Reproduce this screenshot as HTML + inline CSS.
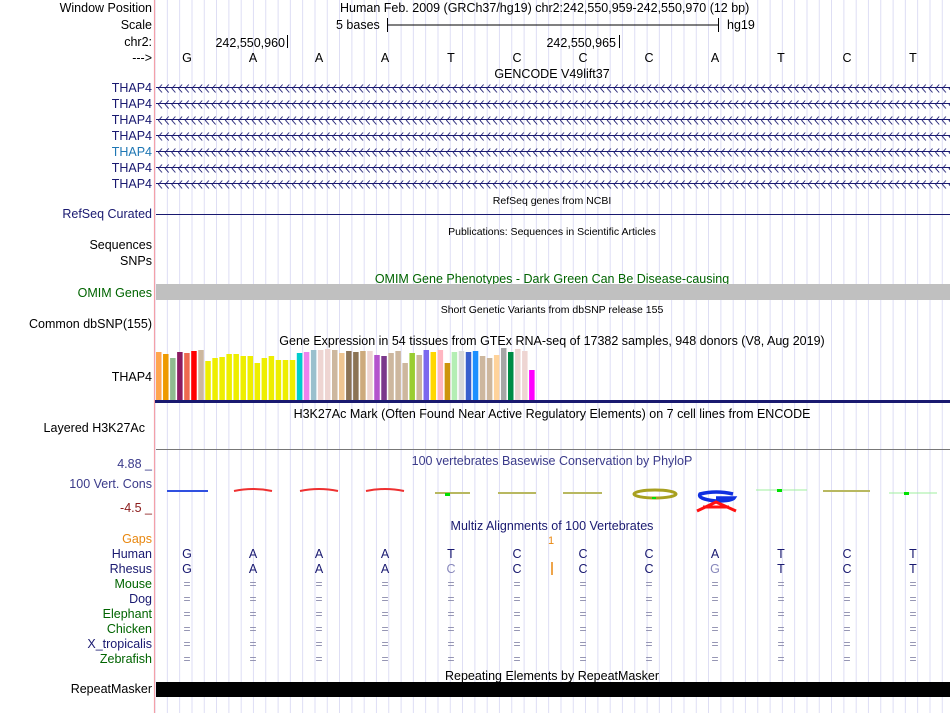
<!DOCTYPE html>
<html><head><meta charset="utf-8"><style>
html,body{margin:0;padding:0;background:#fff;}
svg{display:block;font-family:"Liberation Sans",sans-serif;}
</style></head><body>
<svg width="950" height="713" viewBox="0 0 950 713" xmlns="http://www.w3.org/2000/svg">
<defs>
<pattern id="grid" x="155.5" y="0" width="12.3" height="10" patternUnits="userSpaceOnUse">
<line x1="12" y1="0" x2="12" y2="10" stroke="#d6d6f2" stroke-width="1"/>
</pattern>
<pattern id="chev" x="157" y="0" width="6.7" height="16" patternUnits="userSpaceOnUse">
<polyline points="5,4.5 1.5,8.5 5,12.5" fill="none" stroke="#191970" stroke-width="0.9"/>
</pattern>
</defs>
<rect x="155" y="0" width="795" height="713" fill="url(#grid)"/>
<line x1="154.5" y1="0" x2="154.5" y2="713" stroke="#f4a0a8" stroke-width="1.2"/>

<g font-size="12.5" fill="#000" text-anchor="end">
<text x="152" y="12">Window Position</text>
<text x="152" y="29">Scale</text>
<text x="152" y="46">chr2:</text>
<text x="152" y="62">---&gt;</text>
<g fill="#191970">
<text x="152" y="92">THAP4</text><text x="152" y="108">THAP4</text><text x="152" y="124">THAP4</text><text x="152" y="140">THAP4</text>
<text x="152" y="156" fill="#1f77b4">THAP4</text><text x="152" y="172">THAP4</text><text x="152" y="188">THAP4</text>
<text x="152" y="218">RefSeq Curated</text>
</g>
<text x="152" y="249">Sequences</text>
<text x="152" y="265">SNPs</text>
<text x="152" y="297" fill="#006400">OMIM Genes</text>
<text x="152" y="328">Common dbSNP(155)</text>
<text x="152" y="381">THAP4</text>
<text x="145" y="432">Layered H3K27Ac</text>
<text x="152" y="468" fill="#3a3a8a">4.88 _</text>
<text x="152" y="488" fill="#3a3a8a">100 Vert. Cons</text>
<text x="152" y="512" fill="#8b1a1a">-4.5 _</text>
<text x="152" y="543" fill="#e8870f">Gaps</text>
<text x="152" y="558" fill="#191970">Human</text>
<text x="152" y="573" fill="#191970">Rhesus</text>
<text x="152" y="588" fill="#006400">Mouse</text>
<text x="152" y="603" fill="#191970">Dog</text>
<text x="152" y="618" fill="#006400">Elephant</text>
<text x="152" y="633" fill="#006400">Chicken</text>
<text x="152" y="648" fill="#191970">X_tropicalis</text>
<text x="152" y="663" fill="#006400">Zebrafish</text>
<text x="152" y="693">RepeatMasker</text>
</g>

<g font-size="12.5">
<text x="340" y="12">Human Feb. 2009 (GRCh37/hg19)   chr2:242,550,959-242,550,970 (12 bp)</text>
<text x="336" y="29">5 bases</text>
<line x1="387" y1="25" x2="718" y2="25" stroke="#000"/>
<line x1="387.5" y1="18" x2="387.5" y2="32" stroke="#000"/>
<line x1="718.5" y1="18" x2="718.5" y2="32" stroke="#000"/>
<text x="727" y="29">hg19</text>
<text x="285" y="47" text-anchor="end">242,550,960</text>
<line x1="287.5" y1="35" x2="287.5" y2="48" stroke="#000"/>
<text x="616" y="47" text-anchor="end">242,550,965</text>
<line x1="619.5" y1="35" x2="619.5" y2="48" stroke="#000"/>
<g text-anchor="middle">
<text x="187" y="62">G</text><text x="253" y="62">A</text><text x="319" y="62">A</text><text x="385" y="62">A</text>
<text x="451" y="62">T</text><text x="517" y="62">C</text><text x="583" y="62">C</text><text x="649" y="62">C</text>
<text x="715" y="62">A</text><text x="781" y="62">T</text><text x="847" y="62">C</text><text x="913" y="62">T</text>
<text x="552" y="78">GENCODE V49lift37</text>
<text x="552" y="283" fill="#006400">OMIM Gene Phenotypes - Dark Green Can Be Disease-causing</text>
<text x="552" y="345">Gene Expression in 54 tissues from GTEx RNA-seq of 17382 samples, 948 donors (V8, Aug 2019)</text>
<text x="552" y="418">H3K27Ac Mark (Often Found Near Active Regulatory Elements) on 7 cell lines from ENCODE</text>
<text x="552" y="465" fill="#3a3a8a">100 vertebrates Basewise Conservation by PhyloP</text>
<text x="552" y="530" fill="#191970">Multiz Alignments of 100 Vertebrates</text>
<text x="552" y="680">Repeating Elements by RepeatMasker</text>
</g>
<g text-anchor="middle" font-size="10.5">
<text x="552" y="204">RefSeq genes from NCBI</text>
<text x="552" y="235">Publications: Sequences in Scientific Articles</text>
<text x="552" y="313">Short Genetic Variants from dbSNP release 155</text>
</g>
</g>

<g>
<rect x="156" y="79" width="794" height="16" fill="url(#chev)"/>
<rect x="156" y="95" width="794" height="16" fill="url(#chev)"/>
<rect x="156" y="111" width="794" height="16" fill="url(#chev)"/>
<rect x="156" y="127" width="794" height="16" fill="url(#chev)"/>
<rect x="156" y="143" width="794" height="16" fill="url(#chev)"/>
<rect x="156" y="159" width="794" height="16" fill="url(#chev)"/>
<rect x="156" y="175" width="794" height="16" fill="url(#chev)"/>
<g stroke="#191970" stroke-width="1">
<line x1="156" y1="87.5" x2="950" y2="87.5"/><line x1="156" y1="103.5" x2="950" y2="103.5"/>
<line x1="156" y1="119.5" x2="950" y2="119.5"/><line x1="156" y1="135.5" x2="950" y2="135.5"/>
<line x1="156" y1="151.5" x2="950" y2="151.5"/><line x1="156" y1="167.5" x2="950" y2="167.5"/>
<line x1="156" y1="183.5" x2="950" y2="183.5"/>
<line x1="156" y1="214.5" x2="950" y2="214.5"/>
</g>
</g>

<rect x="156" y="284" width="794" height="16" fill="#c0c0c0"/>

<g id="bars"></g>
<rect x="155" y="400" width="795" height="3" fill="#191970"/>
<line x1="156" y1="449.5" x2="950" y2="449.5" stroke="#777" stroke-width="1"/>

<g stroke-width="2" fill="none">
<line x1="167" y1="491" x2="208" y2="491" stroke="#3050e0"/>
<path d="M234 491 Q253 487 272 491" stroke="#ee3030"/>
<path d="M300 491 Q319 487 338 491" stroke="#ee3030"/>
<path d="M366 491 Q385 487 404 491" stroke="#ee3030"/>
<line x1="435" y1="493" x2="470" y2="493" stroke="#b8b860"/>
<line x1="498" y1="493" x2="536" y2="493" stroke="#b8b860"/>
<line x1="563" y1="493" x2="602" y2="493" stroke="#b8b860"/>
<line x1="756" y1="490" x2="807" y2="490" stroke="#9fef9f" stroke-width="1"/>
<line x1="823" y1="491" x2="870" y2="491" stroke="#b8b860"/>
<line x1="889" y1="493" x2="937" y2="493" stroke="#9fef9f" stroke-width="1"/>
<ellipse cx="655" cy="494" rx="21" ry="4" stroke="#a8a020" stroke-width="3"/>
<path d="M733 494 Q716 490 700 494 Q697 499 716 501 Q732 501 734 498 L716 498" stroke="#1030e0" stroke-width="3.5"/>
<path d="M697 511 L716 502 L736 511 M703 507 L729 507" stroke="#ff1010" stroke-width="3"/>
</g>
<g fill="#00e000">
<rect x="445" y="493" width="5" height="3"/><rect x="777" y="489" width="5" height="3"/><rect x="904" y="492" width="5" height="3"/><rect x="652" y="497" width="4" height="2"/>
</g>

<g font-size="12.5" text-anchor="middle" fill="#191970">
<text x="551" y="544" fill="#e8870f" font-size="11">1</text>
<text x="187" y="558">G</text><text x="253" y="558">A</text><text x="319" y="558">A</text><text x="385" y="558">A</text>
<text x="451" y="558">T</text><text x="517" y="558">C</text><text x="583" y="558">C</text><text x="649" y="558">C</text>
<text x="715" y="558">A</text><text x="781" y="558">T</text><text x="847" y="558">C</text><text x="913" y="558">T</text>
<text x="187" y="573">G</text><text x="253" y="573">A</text><text x="319" y="573">A</text><text x="385" y="573">A</text>
<text x="451" y="573" fill="#8888bb">C</text><text x="517" y="573">C</text><text x="583" y="573">C</text><text x="649" y="573">C</text>
<text x="715" y="573" fill="#8888bb">G</text><text x="781" y="573">T</text><text x="847" y="573">C</text><text x="913" y="573">T</text>
</g>
<line x1="552" y1="562" x2="552" y2="575" stroke="#e8870f" stroke-width="1.5"/>
<g id="eq" font-size="12" text-anchor="middle" fill="#8888aa"></g>

<rect x="156" y="682" width="794" height="15" fill="#000"/>
</svg>
<script>
var tops=[352,354,358,352,353,351,350,361,358,357,354,354,356,356,363,358,356,360,360,360,353,352,350,350,349,350,353,351,352,351,351,355,356,353,351,363,353,355,350,352,350,363,352,351,352,351,356,358,355,348,352,349,351,370];
var cols=["#ffa54f","#ee9a00","#8fbc8f","#8b1c62","#ee6a50","#ff0000","#cdb79e","#eeee00","#eeee00","#eeee00","#eeee00","#eeee00","#eeee00","#eeee00","#eeee00","#eeee00","#eeee00","#eeee00","#eeee00","#eeee00","#00cdcd","#ee82ee","#9ac0cd","#eed5d2","#eed5d2","#cdb79e","#eec591","#8b7355","#8b7355","#cdaa7d","#eed5d2","#b452cd","#7a378b","#cdb79e","#cdb79e","#cdb79e","#9acd32","#cdb79e","#7b68ee","#ffd700","#ffb6c1","#cd950c","#b4eeb4","#d9d9d9","#3a5fcd","#1e90ff","#cdb79e","#cdb79e","#ffd39b","#a6a6a6","#008b45","#eed5d2","#eed5d2","#ff00ff"];
var s="";
for(var i=0;i<54;i++){var x=156+i*7.04;s+='<rect x="'+x+'" y="'+tops[i]+'" width="5.5" height="'+(400-tops[i])+'" fill="'+cols[i]+'"/>';}
document.getElementById("bars").innerHTML=s;
var e="",xs=[187,253,319,385,451,517,583,649,715,781,847,913];
for(var r=0;r<6;r++)for(var j=0;j<12;j++)e+='<text x="'+xs[j]+'" y="'+(588+r*15)+'">=</text>';
document.getElementById("eq").innerHTML=e;
</script>
</body></html>
